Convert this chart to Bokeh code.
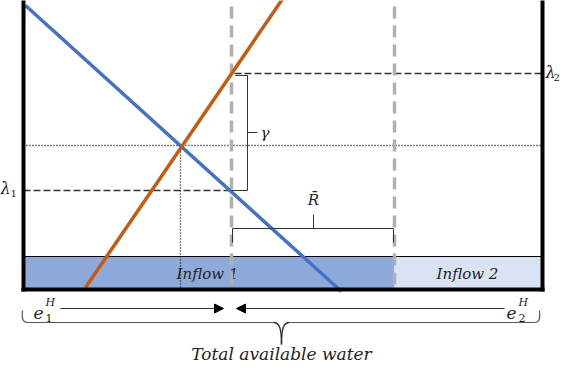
from bokeh.plotting import figure
from bokeh.models import Range1d, Arrow, NormalHead
from bokeh.core.properties import value
from bokeh.embed import file_html
from bokeh.resources import INLINE

# ---- diagram values (in picture units) ----
wall_x = [31, 550]
wall_top = 7
floor_y = 297
demand_x = [33, 349]; demand_y = [13, 299]      # blue line
supply_x = [93, 291]; supply_y = [295, 5]       # orange line
eq_x = 188; eq_y = 153
split_x = [239, 402]
lam2_y = 81; lam1_y = 198
inflow_top = 264
inflow_labels = ["Inflow 1", "Inflow 2"]
inflow_colors = ["#8eaadb", "#dae3f3"]

FONT = value("DejaVu Serif")

p = figure(width=560, height=362, output_backend="svg", toolbar_location=None,
           x_range=Range1d(8, 568), y_range=Range1d(370, 8), min_border=0)
p.axis.visible = False
p.grid.visible = False
p.outline_line_color = None
p.background_fill_color = "white"

# inflow rectangles
p.quad(left=[wall_x[0], split_x[1]], right=[split_x[1], wall_x[1]],
       top=[inflow_top]*2, bottom=[floor_y]*2, fill_color=inflow_colors,
       line_color=None)
p.line([wall_x[0], wall_x[1]], [inflow_top, inflow_top], line_color="black", line_width=1)
p.text(x=[215, 475], y=[281, 281], text=inflow_labels, text_font=FONT,
       text_font_style="italic", text_font_size="15px", text_align="center",
       text_baseline="middle", text_color="#222222")

# dotted equilibrium lines
p.line([wall_x[0], wall_x[1]], [eq_y, eq_y], line_color="black", line_width=1.3, line_dash="1 2")
p.line([eq_x, eq_x], [eq_y, floor_y], line_color="black", line_width=1.3, line_dash="1 2")

# lambda dashed lines
p.line([split_x[0] + 3, wall_x[1]], [lam2_y, lam2_y], line_color="#333333", line_width=1.6, line_dash="7 3")
p.line([wall_x[0], split_x[0]], [lam1_y, lam1_y], line_color="#333333", line_width=1.6, line_dash="7 3")

# gray split lines
for sx in split_x:
    p.line([sx, sx], [14, floor_y], line_color="#b0b0b0", line_width=3.5, line_dash="12 7")

# demand / supply
p.line(demand_x, demand_y, line_color="#4472c4", line_width=3.5)
p.line(supply_x, supply_y, line_color="#c55a11", line_width=3.5)

# gamma bracket
p.line([243, 255, 255, 239], [83, 83, lam1_y, lam1_y], line_color="#333333", line_width=1)
p.line([255, 265], [140, 140], line_color="#333333", line_width=1)
p.text(x=[268], y=[140], text=["γ"], text_font=FONT, text_font_style="italic",
       text_font_size="15px", text_baseline="middle", text_color="#222222")

# R-bar bracket
p.line([240, 240, 401, 401], [250, 236, 236, 250], line_color="#333333", line_width=1)
p.line([321, 321], [236, 222], line_color="#333333", line_width=1)
p.text(x=[321], y=[207], text=["R̄"], text_font=FONT, text_font_style="italic",
       text_font_size="15px", text_align="center", text_baseline="middle", text_color="#222222")

# walls & floor
p.line([wall_x[0], wall_x[0]], [wall_top, floor_y + 2], line_color="black", line_width=4)
p.line([wall_x[1], wall_x[1]], [wall_top, floor_y + 2], line_color="black", line_width=4)
p.line([wall_x[0] - 2, wall_x[1] + 2], [floor_y, floor_y], line_color="black", line_width=4)

# lambda labels
p.text(x=[8, 553], y=[196, 80], text=["λ", "λ"], text_font=FONT, text_font_style="italic",
       text_font_size="16px", text_baseline="middle", text_color="#222222")
p.text(x=[18, 561], y=[201, 85], text=["1", "2"], text_font=FONT,
       text_font_size="10px", text_baseline="middle", text_color="#222222")

# arrows
p.add_layout(Arrow(end=NormalHead(size=9, fill_color="black", line_color="black"),
                   x_start=68, y_start=316, x_end=231, y_end=316, line_color="#333333", line_width=1))
p.add_layout(Arrow(end=NormalHead(size=9, fill_color="black", line_color="black"),
                   x_start=512, y_start=316, x_end=244, y_end=316, line_color="#333333", line_width=1))

# e labels
p.text(x=[41, 514], y=[320, 320], text=["e", "e"], text_font=FONT, text_font_style="italic",
       text_font_size="17px", text_baseline="middle", text_color="#222222")
p.text(x=[53, 526], y=[310, 310], text=["H", "H"], text_font=FONT, text_font_style="italic",
       text_font_size="11px", text_baseline="middle", text_color="#222222")
p.text(x=[53, 526], y=[325, 325], text=["1", "2"], text_font=FONT,
       text_font_size="11px", text_baseline="middle", text_color="#222222")

# curly brace
brace_c = 289; brace_y = 330
p.bezier(x0=[30], y0=[318], x1=[36], y1=[brace_y], cx0=[29], cy0=[328], cx1=[31], cy1=[brace_y],
         line_color="#555555", line_width=1.2)
p.line([36, brace_c - 8], [brace_y, brace_y], line_color="#555555", line_width=1.2)
p.line([brace_c + 8, 542], [brace_y, brace_y], line_color="#555555", line_width=1.2)
p.bezier(x0=[542], y0=[brace_y], x1=[547], y1=[318], cx0=[546], cy0=[brace_y], cx1=[548], cy1=[328],
         line_color="#555555", line_width=1.2)
p.bezier(x0=[brace_c - 8, brace_c + 8], y0=[brace_y, brace_y], x1=[brace_c, brace_c],
         y1=[352, 352], cx0=[brace_c - 2, brace_c + 2], cy0=[brace_y, brace_y],
         cx1=[brace_c, brace_c], cy1=[336, 336], line_color="#333333", line_width=1.4)

p.text(x=[brace_c], y=[361], text=["Total available water"], text_font=FONT,
       text_font_style="italic", text_font_size="17px", text_align="center",
       text_baseline="middle", text_color="#222222")

open("out.html", "w").write(file_html(p, INLINE))
